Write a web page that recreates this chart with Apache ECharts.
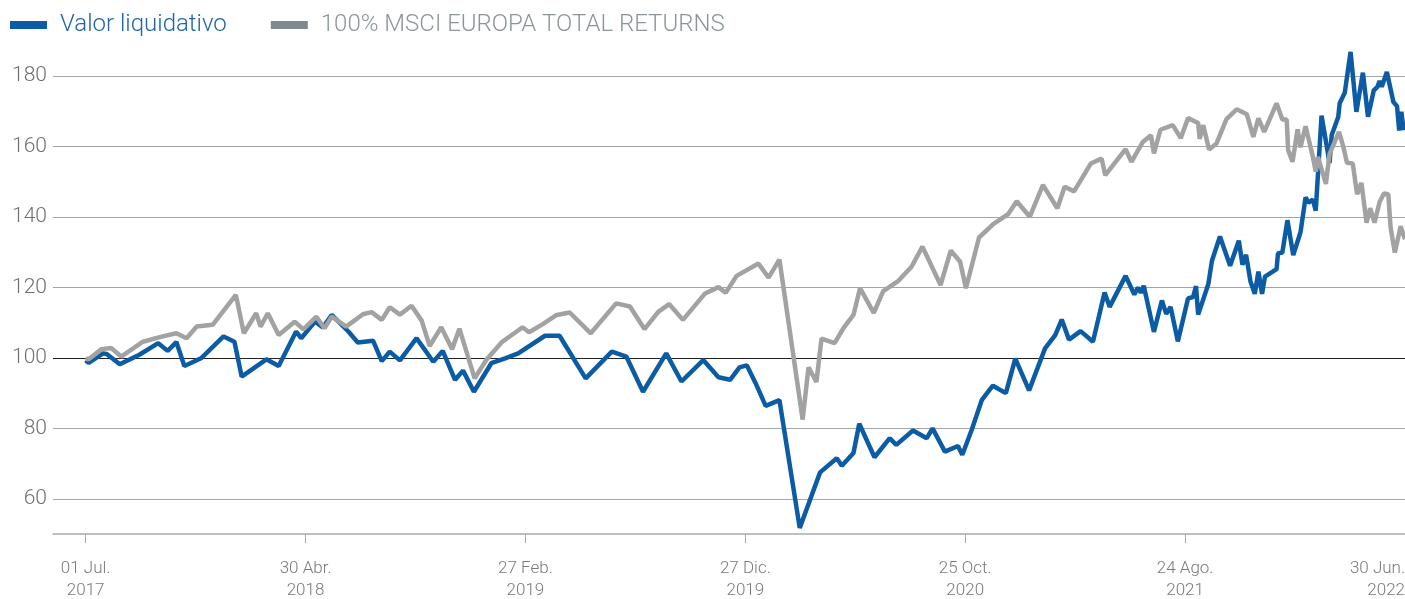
<!DOCTYPE html>
<html><head><meta charset="utf-8">
<script src="https://cdn.jsdelivr.net/npm/echarts@6/dist/echarts.min.js"></script>
<style>html,body{margin:0;padding:0;background:#fff}#c{width:1405px;height:599px}</style>
</head><body><div id="c"></div>
<script>
// Series names (legend)
const seriesNames = ['Valor liquidativo', '100% MSCI EUROPA TOTAL RETURNS'];
// X axis: days since 01 Jul. 2017, labelled ticks
const tickDays = [0, 303, 606, 909, 1212, 1515, 1818];
const tickLabels = ['01 Jul.\n2017', '30 Abr.\n2018', '27 Feb.\n2019', '27 Dic.\n2019', '25 Oct.\n2020', '24 Ago.\n2021', '30 Jun.\n2022'];
// Y axis labelled values
const yLabels = [60, 80, 100, 120, 140, 160, 180];

// Valor liquidativo (days since start, value)
const navDays = [0,4,24,29,47,74,100,113,125,136,159,190,205,215,249,266,290,297,316,327,339,362,375,396,408,419,433,456,479,492,509,520,535,559,578,596,633,653,689,725,745,768,800,821,851,872,888,901,911,923,937,956,984,1012,1035,1042,1058,1066,1087,1108,1117,1140,1159,1167,1184,1202,1208,1221,1235,1250,1268,1281,1300,1322,1336,1345,1355,1371,1388,1404,1411,1433,1445,1450,1454,1458,1472,1483,1489,1495,1505,1519,1526,1530,1533,1547,1552,1563,1577,1589,1594,1599,1605,1611,1616,1621,1625,1641,1643,1649,1656,1664,1674,1681,1685,1691,1695,1703,1709,1714,1717,1726,1728,1735,1743,1751,1760,1767,1775,1780,1783,1786,1793,1802,1807,1810,1813,1816,1818];
const navValues = [99.3,98.6,101.3,101.1,98.2,100.9,104.2,102,104.5,97.7,99.9,106.1,104.6,94.7,99.6,97.7,107.5,105.6,110.3,108.7,112.2,107.5,104.4,104.9,99.1,101.8,99.3,105.6,98.9,102,93.8,96.4,90.4,98.5,99.9,101.3,106.3,106.3,94.2,101.8,100.4,90.4,101.3,93.3,99.4,94.5,93.8,97.3,97.9,92.9,86.4,88,51.7,67.5,71.5,69.4,73,81.3,71.8,77.2,75.3,79.4,77.2,80,73.4,75,72.5,79.6,88.1,92.1,90,99.8,90.8,102.7,106.5,110.9,105.2,107.6,104.6,118.6,114.5,123.3,118,120,118.5,120.5,107.4,116.3,112.5,114.5,104.7,116.9,117.3,120.4,112.3,121,127.6,134.5,126.2,133.3,126.5,129.3,121.8,118.2,124.5,118.2,123.1,125.2,129.7,129.9,139.1,129.2,135.7,145.6,144.1,145,141.8,168.8,161.6,155.3,163.3,168.4,172.3,175.3,186.9,169.9,181,168.5,176,177,178.6,177,181.2,172.7,171.5,164.6,169.9,164.8,167];

// 100% MSCI EUROPA TOTAL RETURNS (days since start, value)
const msciDays = [0,4,22,35,49,79,102,125,139,153,175,207,218,235,241,251,266,288,300,318,329,339,359,382,394,408,419,433,449,463,474,490,505,515,536,552,573,589,602,611,630,649,667,696,731,750,770,789,804,823,853,872,882,897,927,941,956,988,996,1007,1014,1032,1044,1058,1067,1086,1099,1120,1138,1153,1178,1192,1205,1213,1231,1251,1271,1283,1301,1319,1339,1349,1362,1385,1400,1405,1433,1441,1457,1468,1472,1481,1498,1509,1519,1533,1535,1540,1548,1558,1572,1586,1600,1609,1616,1624,1641,1649,1655,1657,1663,1670,1674,1681,1691,1695,1698,1709,1714,1727,1733,1738,1746,1752,1758,1765,1770,1776,1783,1789,1795,1798,1804,1812,1818];
const msciValues = [99.9,99.6,102.5,102.8,100.4,104.6,105.9,107,105.6,108.9,109.4,117.9,107,112.7,108.9,112.7,106.5,110.3,108.1,111.7,108.4,111.7,108.9,112.4,113,110.8,114.4,112.3,114.8,110.6,103.4,108.7,102.5,108.3,94.2,99.4,104.4,106.8,108.7,107.3,109.6,112.2,112.9,107,115.5,114.6,108.2,113.1,115.3,110.8,118.2,120.1,118.5,123.3,126.8,122.8,127.9,82.5,97.3,93.2,105.5,104.2,108.4,112.2,119.8,112.8,119,121.9,125.9,131.6,120.7,130.5,127.3,119.8,134.2,138.1,140.8,144.5,140.1,149.1,142.5,148.6,147.3,155.2,156.6,151.9,159.3,155.7,161.4,163.2,158.1,164.8,166.1,162.4,168.1,166.7,162.2,166.1,159.2,160.8,167.8,170.6,169.2,162.8,168,164.2,172.3,167.7,167.7,159,155.7,164.9,159.8,165.8,157.1,152.9,157.1,149.4,157.9,164.2,160,155.4,155.2,146.5,149.7,138.4,142.5,138.4,144.3,146.7,146.5,137.3,129.9,137.4,133.7];

const zip = (xs, ys) => xs.map((x, i) => [x, ys[i]]);

// split line colours per tick 50..190 step 10
const splitColors = [];
for (let v = 50; v <= 190; v += 10) {
  if (v === 100) splitColors.push('#222222');
  else if (yLabels.indexOf(v) >= 0) splitColors.push('#a6a6a6');
  else splitColors.push('rgba(0,0,0,0)');
}

const chart = echarts.init(document.getElementById('c'), null, {renderer: 'canvas'});
chart.setOption({
  animation: false,
  backgroundColor: '#ffffff',
  grid: {left: 53, right: 0, top: 41, bottom: 65, containLabel: false, outerBoundsMode: 'none'},
  legend: {
    left: 10, top: 12, padding: 0, itemWidth: 37, itemHeight: 8, itemGap: 44, icon: 'rect',
    textStyle: {fontSize: 24, lineHeight: 26, fontFamily: 'Roboto', fontWeight: 300, padding: [0, 0, 0, 8]},
    data: [
      {name: seriesNames[0], itemStyle: {color: '#0b5ca4'}, textStyle: {color: '#1f63a8'}},
      {name: seriesNames[1], itemStyle: {color: '#7f8a8e'}, textStyle: {color: '#8c969a'}}
    ]
  },
  xAxis: {
    type: 'value', min: -45, max: 1818,
    axisLine: {show: true, lineStyle: {color: '#aaaaaa', width: 1.5}},
    axisTick: {show: true, customValues: tickDays, length: 9, lineStyle: {color: '#aaaaaa', width: 1}},
    axisLabel: {
      customValues: tickDays, margin: 24, lineHeight: 22, fontSize: 17,
      fontFamily: 'Roboto', fontWeight: 300, color: '#7a7a7a', alignMaxLabel: 'right',
      formatter: v => { const i = tickDays.indexOf(v); return i >= 0 ? tickLabels[i] : ''; }
    },
    splitLine: {show: false}
  },
  yAxis: {
    type: 'value', min: 50, max: 190, interval: 10,
    axisLine: {show: false}, axisTick: {show: false},
    axisLabel: {
      margin: 6, fontSize: 21, fontFamily: 'Roboto', fontWeight: 300, color: '#707070',
      formatter: v => yLabels.indexOf(v) >= 0 ? String(v) : ''
    },
    splitLine: {show: true, lineStyle: {color: splitColors, width: 1}}
  },
  series: [
    {name: seriesNames[0], type: 'line', data: zip(navDays, navValues), showSymbol: false, symbol: 'none',
     lineStyle: {color: '#0b5ca4', width: 4.5}, itemStyle: {color: '#0b5ca4'}, z: 2},
    {name: seriesNames[1], type: 'line', data: zip(msciDays, msciValues), showSymbol: false, symbol: 'none',
     lineStyle: {color: '#a2a2a2', width: 4.5}, itemStyle: {color: '#a2a2a2'}, z: 3}
  ]
});
</script></body></html>
